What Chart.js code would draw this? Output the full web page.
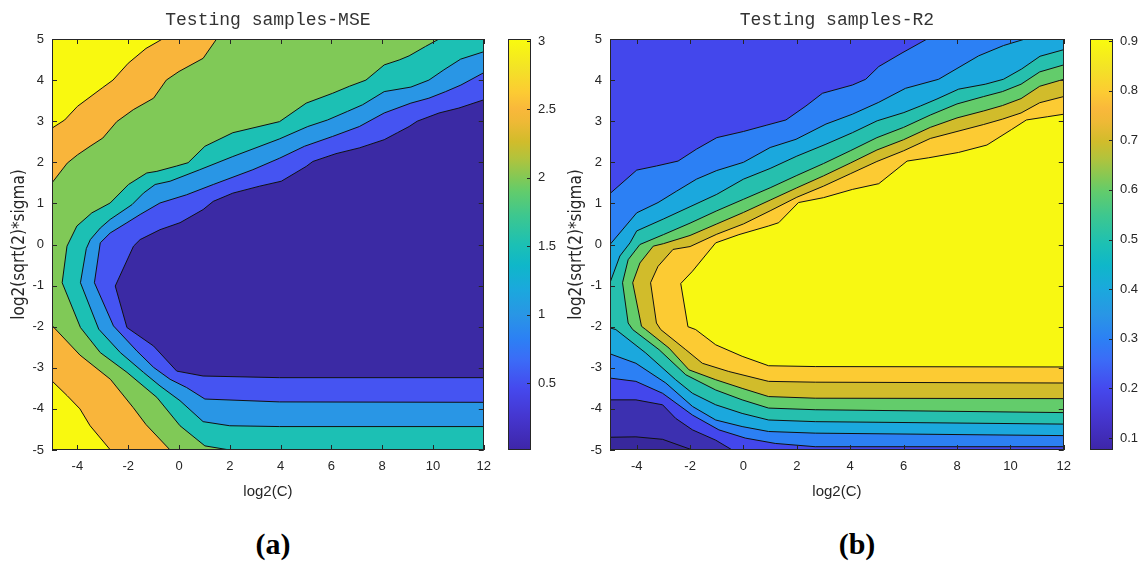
<!DOCTYPE html>
<html>
<head>
<meta charset="utf-8">
<title>Testing samples contours</title>
<script src="https://cdn.jsdelivr.net/npm/chart.js@4.4.0/dist/chart.umd.min.js"></script>
<style>
  body { margin: 0; background: #fff; }
  #wrap { position: relative; width: 1141px; height: 562px; overflow: hidden; }
  .box { position: absolute; }
  .cap { position: absolute; top: 529px; width: 80px; text-align: center;
         font: bold 30px "Liberation Serif", "Times New Roman", serif; line-height: 1; color: #000; }
</style>
</head>
<body>
<div id="wrap">
  <div class="box" style="left:0;top:0;width:500px;height:520px"><canvas id="mseChart"></canvas></div>
  <div class="box" style="left:500px;top:0;width:70px;height:470px"><canvas id="mseBar"></canvas></div>
  <div class="box" style="left:560px;top:0;width:520px;height:520px"><canvas id="r2Chart"></canvas></div>
  <div class="box" style="left:1080px;top:0;width:61px;height:470px"><canvas id="r2Bar"></canvas></div>
  <div class="cap" style="left:233px">(a)</div>
  <div class="cap" style="left:817px">(b)</div>
</div>
<script>
// axis ticks
const xTicks = [-4, -2, 0, 2, 4, 6, 8, 10, 12];
const yTicks = [-5, -4, -3, -2, -1, 0, 1, 2, 3, 4, 5];
const mseLevels = [0.5, 1, 1.5, 2, 2.5, 3];
const r2Levels = [0.1, 0.2, 0.3, 0.4, 0.5, 0.6, 0.7, 0.8, 0.9];
const mseRange = [0.01, 3.015];
const r2Range = [0.076, 0.904];

// MSE contour lines, [log2(C), log2(sqrt(2)*sigma)]
const mse3Top = [[-5,2.83],[-4.5,3.03],[-4,3.36],[-3,3.82],[-2.6,4.0],[-2,4.41],[-1.3,4.77],[-0.65,5],[-5,5]];
const mse25Top = [[-5,1.5],[-4.4,1.98],[-4,2.18],[-3.5,2.39],[-3,2.59],[-2.45,2.99],[-1.8,3.28],[-1,3.56],[-0.5,4.0],[0,4.21],[0.95,4.53],[1.48,5],[-5,5]];
const mse25Low = [[-5,-1.97],[-3.9,-2.69],[-2.7,-3.28],[-1.8,-3.97],[-1.3,-4.38],[-0.35,-5],[-5,-5]];
const mse3Low = [[-5,-3.32],[-4.4,-3.68],[-3.9,-4.0],[-3.5,-4.41],[-2.7,-5],[-5,-5]];
const mse2 = [[10.24,5],[9.71,4.82],[9.06,4.59],[8.67,4.49],[8.08,4.37],[7.36,4.0],[6.71,3.85],[6.05,3.68],[5.01,3.44],[3.96,2.99],[2.12,2.72],[1.02,2.39],[0.36,1.99],[-0.09,1.91],[-0.87,1.78],[-1.27,1.74],[-1.99,1.46],[-2.71,1.01],[-3.43,0.77],[-4.02,0.45],[-4.41,-0.04],[-4.6,-0.93],[-3.88,-2.02],[-3.1,-2.63],[-2.05,-3.11],[-0.87,-3.72],[0.04,-4.41],[1.02,-4.9],[2,-5],[12,-5],[12,5]];
const mse15 = [[12,4.69],[11.09,4.51],[10.43,4.25],[9.84,4.0],[9.13,3.83],[8.08,3.72],[7.23,3.4],[6.64,3.24],[5.85,3.03],[5.07,2.87],[3.96,2.57],[2.12,2.14],[0.82,1.82],[-0.35,1.54],[-0.94,1.46],[-1.4,1.25],[-1.85,0.97],[-2.71,0.61],[-3.1,0.4],[-3.49,0.12],[-3.65,-0.1],[-3.88,-0.93],[-3.16,-2.06],[-2.31,-2.63],[-1.4,-3.11],[-0.75,-3.44],[0.04,-3.8],[0.95,-4.31],[2,-4.41],[3.96,-4.43],[12,-4.43]];
const mse1 = [[12,4.18],[11.1,3.88],[10.5,3.72],[9.84,3.56],[9.13,3.44],[8.08,3.2],[7.1,2.87],[6.05,2.63],[4.94,2.39],[3.96,2.1],[2.91,1.82],[1.35,1.46],[0.3,1.21],[-0.75,1.01],[-1.53,0.73],[-2.05,0.53],[-2.71,0.28],[-3.1,0.04],[-3.33,-0.93],[-2.58,-1.98],[-1.66,-2.59],[-1,-2.99],[-0.35,-3.28],[0.3,-3.48],[1.02,-3.76],[3.96,-3.83],[12,-3.84]];
const mse05 = [[12,3.52],[11.02,3.32],[10.24,3.2],[9.38,3.0],[9.06,2.87],[8.6,2.72],[8.08,2.55],[7.1,2.35],[6.18,2.21],[5.27,2.02],[5.01,1.9],[4.03,1.54],[3.18,1.42],[2.12,1.25],[1.35,1.05],[0.95,0.85],[0.04,0.53],[-0.75,0.36],[-1.53,0.12],[-1.79,-0.04],[-2.51,-1.01],[-2.05,-2.02],[-1.0,-2.47],[-0.09,-3.08],[0.95,-3.2],[3.96,-3.24],[12,-3.24]];

// R2 contour lines
const r2L03 = [[-5,1.24],[-4,1.81],[-3.26,1.91],[-2.45,2.03],[-1.76,2.32],[-1.0,2.6],[0,2.75],[0.85,2.9],[1.59,3.03],[2.34,3.37],[2.96,3.68],[4.08,3.88],[4.58,4.02],[5.07,4.33],[5.94,4.66],[6.88,5],[12,5],
  [12,-4.92],[2.69,-4.92],[1.19,-4.84],[0.07,-4.71],[-0.92,-4.51],[-1.91,-4.15],[-3.03,-3.62],[-4.03,-3.33],[-5,-3.25]];
const r2L04 = [[-5,0],[-4,0.77],[-3.2,1.02],[-2.5,1.3],[-1.76,1.59],[-1.0,1.8],[0,2.0],[1.0,2.36],[1.97,2.56],[3.09,2.93],[4.08,3.17],[5.07,3.46],[6.07,3.8],[7.31,4.02],[8.81,4.59],[9.74,4.84],[10.55,5],[12,5],
  [12,-4.65],[2.69,-4.59],[0.94,-4.55],[-0.05,-4.43],[-1.04,-4.27],[-1.91,-3.94],[-2.91,-3.37],[-4.03,-2.89],[-5,-2.66]];
const r2L05 = [[12,4.74],[11.11,4.58],[10.42,4.27],[9.74,4.02],[9.06,3.9],[8.06,3.78],[7.25,3.54],[6.63,3.37],[6.01,3.21],[5.01,3.01],[4.08,2.72],[3.09,2.44],[2,2.15],[1,1.85],[0,1.59],[-1,1.22],[-2,0.92],[-3,0.62],[-4,0.33],[-4.25,0.04],[-4.63,-0.28],[-5,-0.93],
  [-5,-2.03],[-4.78,-2.07],[-3.66,-2.64],[-2.54,-3.29],[-1.91,-3.62],[-1.04,-3.9],[-0.05,-4.11],[0.94,-4.27],[2.69,-4.31],[12,-4.37]];
const r2L06 = [[12,4.37],[11.1,4.2],[10.4,3.9],[9.7,3.72],[9,3.6],[8,3.42],[7,3.15],[6,2.85],[5,2.6],[4,2.28],[3,1.97],[2,1.68],[1,1.38],[0,1.1],[-1,0.82],[-2,0.52],[-3,0.24],[-3.88,0],[-4.32,-0.37],[-4.53,-0.93],
  [-4.32,-1.91],[-4.15,-2.07],[-3.16,-2.56],[-2.16,-3.17],[-1.04,-3.54],[-0.05,-3.78],[0.94,-3.98],[2.69,-4.02],[12,-4.09]];
const r2L07 = [[12,4.02],[11.1,3.85],[10.4,3.55],[9.7,3.38],[9,3.25],[8,3.08],[7,2.85],[6,2.55],[5,2.3],[4,1.98],[3,1.67],[2,1.38],[1,1.08],[0,0.78],[-1,0.5],[-2,0.22],[-3,0.02],[-3.38,-0.04],[-3.88,-0.45],[-4.15,-0.93],
  [-3.82,-1.99],[-3.66,-2.07],[-2.79,-2.52],[-2.04,-3.05],[-1.04,-3.29],[-0.05,-3.5],[0.94,-3.7],[2.69,-3.74],[12,-3.75]];
const r2L08 = [[12,3.6],[11.1,3.45],[10.4,3.2],[9.7,3.05],[9,2.92],[8,2.75],[7,2.58],[6,2.28],[5,2.02],[4,1.72],[3,1.42],[2,1.15],[1,0.82],[0,0.5],[-1,0.25],[-2,-0.05],[-2.64,-0.12],[-3.2,-0.53],[-3.48,-0.93],
  [-3.26,-1.91],[-3.1,-2.07],[-2.16,-2.56],[-1.54,-2.89],[-0.55,-3.09],[0.94,-3.33],[2.69,-3.35],[12,-3.37]];
const r2L09 = [[12,3.17],[11.4,3.11],[10.6,3.03],[10.05,2.8],[9.12,2.42],[8.06,2.24],[6.94,2.11],[6.13,2.03],[5.07,1.48],[4.08,1.34],[3,1.14],[2.06,1.02],[1.32,0.53],[0.94,0.45],[-0.17,0.24],[-1.04,0.04],[-1.91,-0.65],[-2.35,-0.95],
  [-2.08,-2.0],[-1.79,-2.07],[-1.04,-2.44],[-0.05,-2.72],[0.94,-2.95],[2.69,-2.97],[12,-2.98]];
const r2L02 = [[-5,-3.78],[-4.03,-3.78],[-3.03,-3.9],[-2.54,-4.23],[-1.91,-4.51],[-1.04,-4.76],[-0.42,-5],[-5,-5]];
const r2L01 = [[-5,-4.69],[-4.03,-4.68],[-3.03,-4.74],[-1.91,-5],[-5,-5]];

// colormap used for the colour bars
const parulaStops = [[0,'#3e26a8'],[0.08,'#4536cf'],[0.15,'#4549ee'],[0.22,'#3b6cf7'],[0.27,'#2c80f4'],[0.33,'#2996e5'],
  [0.39,'#1ba8dd'],[0.45,'#0fb7c9'],[0.5,'#1cc0b4'],[0.57,'#3dc78f'],[0.63,'#63cc6b'],[0.66,'#80c957'],[0.71,'#b2c33c'],
  [0.75,'#d1bc2b'],[0.8,'#efb936'],[0.83,'#f9b83b'],[0.87,'#fccb33'],[0.93,'#f3e326'],[1,'#f9fb0e']];

const axisColor = '#262626';
const tickFont = { family: 'Liberation Sans, Arial, sans-serif', size: 13 };
const xTitleFont = { family: 'Liberation Sans, Arial, sans-serif', size: 15 };
const yTitleFont = { family: 'Liberation Sans Narrow, DejaVu Sans Condensed, Liberation Sans, sans-serif', size: 17 };

// fills every contour polygon in dataset order, under the black lines
const contourFill = {
  id: 'contourFill',
  beforeDatasetsDraw(chart, args, opts) {
    if (!opts.base) return;
    const { ctx, chartArea: a } = chart;
    ctx.save();
    ctx.beginPath();
    ctx.rect(a.left, a.top, a.width, a.height);
    ctx.clip();
    ctx.fillStyle = opts.base;
    ctx.fillRect(a.left, a.top, a.width, a.height);
    chart.data.datasets.forEach((ds, i) => {
      const pts = chart.getDatasetMeta(i).data;
      ctx.beginPath();
      pts.forEach((p, k) => k ? ctx.lineTo(p.x, p.y) : ctx.moveTo(p.x, p.y));
      ctx.closePath();
      ctx.fillStyle = ds.backgroundColor;
      ctx.fill();
    });
    ctx.restore();
  }
};

// colour bar gradient
const colorRamp = {
  id: 'colorRamp',
  beforeDraw(chart, args, opts) {
    if (!opts.stops) return;
    const { ctx, chartArea: a } = chart;
    const g = ctx.createLinearGradient(0, a.bottom, 0, a.top);
    opts.stops.forEach(([t, c]) => g.addColorStop(t, c));
    ctx.save();
    ctx.fillStyle = g;
    ctx.fillRect(a.left, a.top, a.width, a.height);
    ctx.restore();
  }
};

// matlab style box with inward ticks
const axesBox = {
  id: 'axesBox',
  afterDraw(chart, args, opts) {
    const { ctx, chartArea: a, scales } = chart;
    const len = opts.len || 5;
    ctx.save();
    ctx.strokeStyle = axisColor;
    ctx.lineWidth = 1;
    ctx.beginPath();
    if (opts.xTicks) {
      scales.x.ticks.forEach(t => {
        const x = Math.round(scales.x.getPixelForValue(t.value)) + 0.5;
        ctx.moveTo(x, a.bottom); ctx.lineTo(x, a.bottom - len);
        ctx.moveTo(x, a.top); ctx.lineTo(x, a.top + len);
      });
    }
    scales.y.ticks.forEach(t => {
      const y = Math.round(scales.y.getPixelForValue(t.value)) + 0.5;
      if (opts.leftTicks) { ctx.moveTo(a.left, y); ctx.lineTo(a.left + len, y); }
      ctx.moveTo(a.right, y); ctx.lineTo(a.right - len, y);
    });
    ctx.stroke();
    ctx.strokeRect(Math.round(a.left) + 0.5, Math.round(a.top) + 0.5, Math.round(a.width) - 1, Math.round(a.height) - 1);
    ctx.restore();
  }
};

Chart.register(contourFill, colorRamp, axesBox);

function onFrame(p, q) {
  return (p.x === q.x && (p.x === -5 || p.x === 12)) || (p.y === q.y && (p.y === 5 || p.y === -5));
}

function contourSet(points, color) {
  return {
    data: points.map(([x, y]) => ({ x, y })),
    backgroundColor: color,
    borderColor: '#000',
    borderWidth: 1,
    showLine: true,
    fill: false,
    pointRadius: 0,
    pointHoverRadius: 0,
    segment: { borderColor: c => onFrame(c.p0.parsed, c.p1.parsed) ? 'rgba(0,0,0,0)' : '#111' }
  };
}

function contourOptions(title, base, yAxisWidth, yTitlePad, padRight) {
  return {
    responsive: true,
    maintainAspectRatio: false,
    animation: false,
    events: [],
    layout: { padding: { top: 0, right: padRight, bottom: 0, left: 0 } },
    plugins: {
      legend: { display: false },
      tooltip: { enabled: false },
      title: {
        display: true, text: title, color: '#333', fullSize: false,
        font: { family: 'Liberation Mono, DejaVu Sans Mono, monospace', size: 18, weight: 'normal' },
        padding: { top: 9, bottom: 8.4 }
      },
      contourFill: { base: base },
      axesBox: { xTicks: true, leftTicks: true, len: 5 }
    },
    scales: {
      x: {
        type: 'linear', min: -5, max: 12,
        afterBuildTicks: s => { s.ticks = xTicks.map(v => ({ value: v })); },
        afterFit: s => { s.height = 70; },
        grid: { display: false, drawTicks: false },
        border: { display: false },
        ticks: { padding: 9, color: axisColor, font: tickFont, maxRotation: 0, autoSkip: false, callback: v => String(v) },
        title: { display: true, text: 'log2(C)', color: axisColor, font: xTitleFont, padding: { top: 0, bottom: 19 } }
      },
      y: {
        type: 'linear', min: -5, max: 5,
        afterBuildTicks: s => { s.ticks = yTicks.map(v => ({ value: v })); },
        afterFit: s => { s.width = yAxisWidth; },
        grid: { display: false, drawTicks: false },
        border: { display: false },
        ticks: { padding: 8, color: axisColor, font: tickFont, autoSkip: false, callback: v => String(v) },
        title: { display: true, text: 'log2(sqrt(2)*sigma)', color: axisColor, font: yTitleFont, padding: { top: yTitlePad, bottom: 0 } }
      }
    }
  };
}

function barOptions(range, ticks, padLeft, axisWidth) {
  return {
    responsive: true,
    maintainAspectRatio: false,
    animation: false,
    events: [],
    layout: { padding: { top: 39, bottom: 20, left: padLeft, right: 0 } },
    plugins: {
      legend: { display: false },
      tooltip: { enabled: false },
      colorRamp: { stops: parulaStops },
      axesBox: { xTicks: false, leftTicks: false, len: 4 }
    },
    scales: {
      x: { type: 'linear', display: false, min: 0, max: 1 },
      y: {
        type: 'linear', position: 'right', min: range[0], max: range[1],
        afterBuildTicks: s => { s.ticks = ticks.map(v => ({ value: v })); },
        afterFit: s => { s.width = axisWidth; },
        grid: { display: false, drawTicks: false },
        border: { display: false },
        ticks: { padding: 7, color: axisColor, font: tickFont, autoSkip: false, callback: v => String(v) }
      }
    }
  };
}

// panel (a): MSE
new Chart(document.getElementById('mseChart'), {
  type: 'scatter',
  data: {
    datasets: [
      contourSet(mse25Top, '#f9b53b'),
      contourSet(mse3Top, '#f9f90f'),
      contourSet(mse25Low, '#f9b53b'),
      contourSet(mse3Low, '#f9f90f'),
      contourSet(mse2, '#1cc0b4'),
      contourSet(mse15, '#2996e5'),
      contourSet(mse1, '#4554f2'),
      contourSet(mse05, '#3b2aa4')
    ]
  },
  options: contourOptions('Testing samples-MSE', '#80c957', 52, 9, 14)
});

new Chart(document.getElementById('mseBar'), {
  type: 'scatter',
  data: { datasets: [] },
  options: barOptions(mseRange, mseLevels, 8, 39)
});

// panel (b): R2
new Chart(document.getElementById('r2Chart'), {
  type: 'scatter',
  data: {
    datasets: [
      contourSet(r2L03, '#2c80f4'),
      contourSet(r2L04, '#1ba8dd'),
      contourSet(r2L05, '#26bfae'),
      contourSet(r2L06, '#63cc6b'),
      contourSet(r2L07, '#d1bc2b'),
      contourSet(r2L08, '#fccb33'),
      contourSet(r2L09, '#f8f812'),
      contourSet(r2L02, '#3c30b0'),
      contourSet(r2L01, '#38289c')
    ]
  },
  options: contourOptions('Testing samples-R2', '#4347ec', 50, 6, 13)
});

new Chart(document.getElementById('r2Bar'), {
  type: 'scatter',
  data: { datasets: [] },
  options: barOptions(r2Range, r2Levels, 10, 28)
});
</script>
</body>
</html>
